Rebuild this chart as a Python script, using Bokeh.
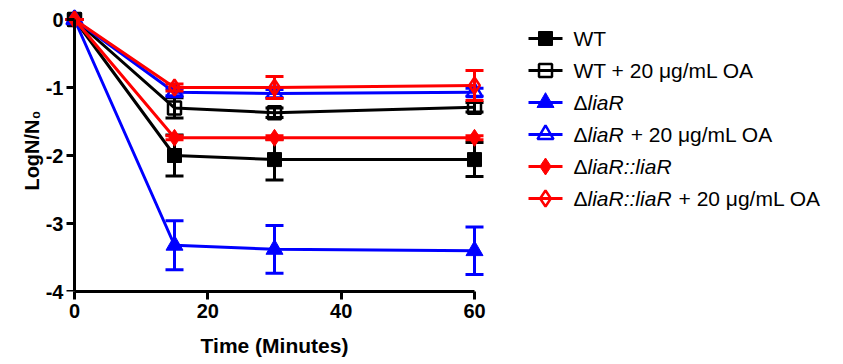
import math
from bokeh.plotting import figure
from bokeh.models import Range1d, LinearAxis, FixedTicker, ColumnDataSource
from bokeh.layouts import row
from bokeh.core.properties import value
from bokeh.embed import file_html
from bokeh.resources import INLINE

# ---- data ----
time = [0, 15, 30, 60]

wt = [0, -2.00, -2.06, -2.06]
wt_err = [0, 0.30, 0.30, 0.25]

wt_oa = [0, -1.30, -1.37, -1.29]
wt_oa_err = [0, 0.15, 0.07, 0.07]

liar = [0, -3.32, -3.38, -3.40]
liar_err = [0, 0.36, 0.35, 0.35]

liar_oa = [0, -1.07, -1.09, -1.07]
liar_oa_err = [0, 0.05, 0.06, 0.06]

comp = [0, -1.74, -1.74, -1.74]
comp_err = [0, 0.03, 0.03, 0.03]

comp_oa = [0, -1.00, -1.00, -0.97]
comp_oa_err = [0, 0.05, 0.16, 0.22]

x_ticks = [0, 20, 40, 60]
y_ticks = [-4, -3, -2, -1, 0]
y_tick_labels = ["-4", "-3", "-2", "-1", "0"]

series = [
    # (values, errors, colour, marker, filled, label parts)
    (wt, wt_err, "#000000", "square", True, [("WT", "normal")]),
    (wt_oa, wt_oa_err, "#000000", "square", False, [("WT + 20 \u03bcg/mL OA", "normal")]),
    (liar, liar_err, "#0000FF", "triangle", True, [("\u0394", "normal"), ("liaR", "italic")]),
    (liar_oa, liar_oa_err, "#0000FF", "triangle", False,
     [("\u0394", "normal"), ("liaR", "italic"), (" + 20 \u03bcg/mL OA", "normal")]),
    (comp, comp_err, "#FF0000", "diamond", True, [("\u0394", "normal"), ("liaR::liaR", "italic")]),
    (comp_oa, comp_oa_err, "#FF0000", "diamond", False,
     [("\u0394", "normal"), ("liaR::liaR", "italic"), (" + 20 \u03bcg/mL OA", "normal")]),
]

FONT = "Liberation Sans"
TOP, BOTTOM = 9, 73          # borders (px)
H = 364

# ---- main plot ----
p = figure(width=500, height=H, output_backend="svg", toolbar_location=None,
           x_range=Range1d(-1.5, 61.5), y_range=Range1d(-4, 10 / 68),
           x_axis_type=None, y_axis_type=None,
           min_border_left=64, min_border_right=16, min_border_top=TOP, min_border_bottom=BOTTOM)
p.outline_line_color = None
p.xgrid.visible = False
p.ygrid.visible = False
p.background_fill_color = "white"
p.border_fill_color = "white"


def style_axis(ax):
    ax.axis_line_width = 3
    ax.major_tick_line_width = 3
    ax.major_tick_out = 8
    ax.major_tick_in = 0
    ax.minor_tick_line_color = None
    ax.major_label_text_font = FONT
    ax.major_label_text_font_style = "bold"
    ax.major_label_text_font_size = "20px"
    ax.major_label_text_color = "black"
    ax.axis_line_color = "black"
    ax.major_tick_line_color = "black"
    ax.axis_label_text_font = FONT
    ax.axis_label_text_font_style = "bold"
    ax.axis_label_text_color = "black"


xaxis = LinearAxis(ticker=FixedTicker(ticks=x_ticks), bounds=(0, 60))
style_axis(xaxis)
xaxis.major_label_standoff = 4
xaxis.axis_label = "Time (Minutes)"
xaxis.axis_label_text_font_size = "21px"
xaxis.axis_label_standoff = 13
p.add_layout(xaxis, "below")

# labels-only y axis at the frame edge (tick labels + title)
ylab = LinearAxis(ticker=FixedTicker(ticks=y_ticks))
style_axis(ylab)
ylab.major_label_overrides = {t: s for t, s in zip(y_ticks, y_tick_labels)}
ylab.axis_line_color = None
ylab.major_tick_line_color = None
ylab.major_tick_out = 0
ylab.major_label_standoff = 1
ylab.axis_label = "LogN/N\u2080"
ylab.axis_label_text_font_size = "20px"
ylab.axis_label_standoff = 0
p.add_layout(ylab, "left")

# y axis line and ticks placed at x = 0
yaxis = LinearAxis(ticker=FixedTicker(ticks=y_ticks), bounds=(-4, 0), fixed_location=0)
style_axis(yaxis)
yaxis.major_label_text_color = None
yaxis.major_label_text_font_size = "1px"
p.add_layout(yaxis, "left")

for vals, errs, col, mk, filled, _ in series:
    up = [v + e for v, e in zip(vals, errs)]
    lo = [v - e for v, e in zip(vals, errs)]
    src = ColumnDataSource(dict(x=time, y=vals, up=up, lo=lo))
    p.line("x", "y", source=src, line_color=col, line_width=3)
    p.segment(x0="x", y0="lo", x1="x", y1="up", source=src, line_color=col, line_width=3)
    p.scatter("x", "up", source=src, marker="dash", size=18, line_color=col, line_width=3)
    p.scatter("x", "lo", source=src, marker="dash", size=18, line_color=col, line_width=3)
    size = 14 if mk == "square" else 17
    if filled:
        p.scatter("x", "y", source=src, marker=mk, size=size, fill_color=col, line_color=col,
                  line_width=1)
    else:
        p.scatter("x", "y", source=src, marker=mk, size=size - 1, fill_alpha=0, line_color=col,
                  line_width=2.5)

# ---- legend (pixel coordinate panel, frame aligned with main plot) ----
LW = 343
lg = figure(width=LW, height=H, output_backend="svg", toolbar_location=None,
            x_range=Range1d(0, LW), y_range=Range1d(H - BOTTOM, TOP),
            x_axis_type=None, y_axis_type=None,
            min_border_left=0, min_border_right=0,
            min_border_top=TOP, min_border_bottom=BOTTOM)
lg.outline_line_color = None
lg.xgrid.visible = False
lg.ygrid.visible = False

# Arial / Liberation Sans advance widths (em)
W = {"\u0394": 0.668, "l": 0.222, "i": 0.222, "a": 0.556, "R": 0.722, ":": 0.278, " ": 0.278,
     "+": 0.584, "2": 0.556, "0": 0.556, "\u03bc": 0.576, "g": 0.556, "/": 0.278, "m": 0.833,
     "L": 0.556, "O": 0.778, "A": 0.667, "W": 0.944, "T": 0.611}
fs = 21
x0_line, x1_line, x_mark, x_text = 28, 62, 45, 73
for i, (vals, errs, col, mk, filled, parts) in enumerate(series):
    yy = 38 + 32 * i
    lg.segment(x0=[x0_line], y0=[yy], x1=[x1_line], y1=[yy], line_color=col, line_width=3)
    size = 14 if mk == "square" else 17
    if filled:
        lg.scatter([x_mark], [yy], marker=mk, size=size, fill_color=col, line_color=col)
    else:
        lg.scatter([x_mark], [yy], marker=mk, size=size - 1, fill_alpha=0,
                   line_color=col, line_width=2.5)
    xx = x_text
    for txt, style in parts:
        lg.text([xx], [yy], text=[txt], text_font=value(FONT), text_font_style=style,
                text_font_size=f"{fs}px", text_baseline="middle", text_align="left",
                text_color="black")
        xx += sum(W.get(c, 0.55) for c in txt) * fs + (7 if style == "italic" else 0)

layout = row(p, lg)
open("out.html", "w").write(file_html(layout, INLINE))
